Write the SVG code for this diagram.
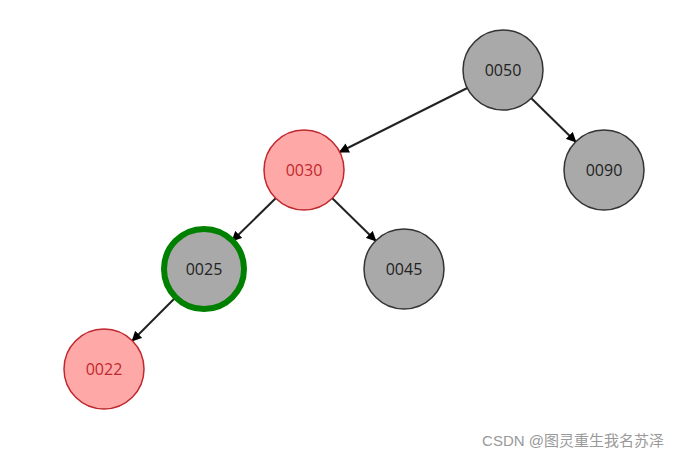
<svg xmlns="http://www.w3.org/2000/svg" width="677" height="461" viewBox="0 0 677 461">
<style>
.n circle{stroke-width:1.5}
.b circle{fill:#a9a9a9;stroke:#333}
.r circle{fill:#ffa8a8;stroke:#c0282d}
.n text{font-family:"Open Sans","Liberation Sans",sans-serif;font-size:16px;text-anchor:middle;dominant-baseline:central}
.b text{fill:#222}
.r text{fill:#c0282d}
.e line{stroke:#222;stroke-width:2;marker-end:url(#a)}
</style>
<defs><marker id="a" markerWidth="10" markerHeight="10" refX="9" refY="5" orient="auto" markerUnits="userSpaceOnUse" viewBox="0 0 10 10"><path d="M0,0 L10,5 L0,10 z" fill="#000"/></marker></defs>
<rect width="677" height="461" fill="#fff"/>
<g class="e">
<line x1="467.3" y1="88" x2="339.7" y2="152"/>
<line x1="531.3" y1="98.3" x2="575.7" y2="141.7"/>
<line x1="275.7" y1="198.3" x2="232.3" y2="240.7"/>
<line x1="332.3" y1="198.3" x2="375.7" y2="240.7"/>
<line x1="175.7" y1="297.3" x2="132.3" y2="340.7"/>
</g>
<g id="n50" class="n b"><circle cx="503" cy="70" r="40"/><text x="503" y="70">0050</text></g>
<g id="n30" class="n r"><circle cx="304" cy="170" r="40"/><text x="304" y="170">0030</text></g>
<g id="n90" class="n b"><circle cx="604" cy="170" r="40"/><text x="604" y="170">0090</text></g>
<g id="n25" class="n b"><circle cx="204" cy="269" r="40" style="stroke:#008000;stroke-width:6"/><text x="204" y="269">0025</text></g>
<g id="n45" class="n b"><circle cx="404" cy="269" r="40"/><text x="404" y="269">0045</text></g>
<g id="n22" class="n r"><circle cx="104" cy="369" r="40"/><text x="104" y="369">0022</text></g>
<text x="664" y="446" text-anchor="end" font-family="'Liberation Sans','Noto Sans CJK SC',sans-serif" font-size="15" fill="#999">CSDN @图灵重生我名苏泽</text>
</svg>
